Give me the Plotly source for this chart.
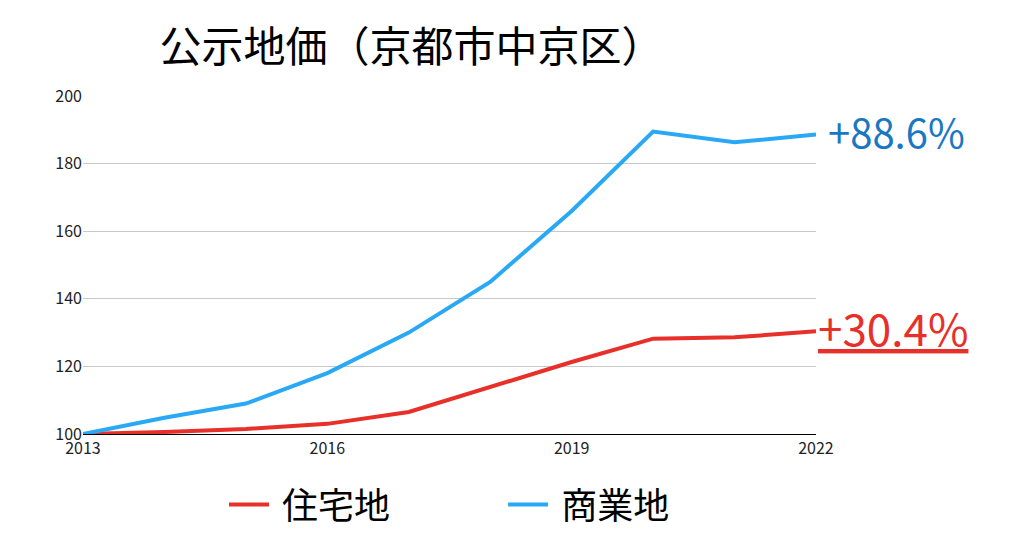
import plotly.graph_objects as go

years = list(range(2013, 2023))
residential = [100, 100.6, 101.5, 103, 106.5, 113.8, 121.3, 128.2, 128.6, 130.4]
commercial = [100, 104.8, 109, 118, 130, 145, 166, 189.5, 186.3, 188.6]

RED = "#e8302a"
BLUE = "#29a9f5"
FONT = "Noto Sans CJK JP"

fig = go.Figure()
fig.add_trace(go.Scatter(x=years, y=residential, mode="lines", name=" 住宅地\u3000\u3000\u3000",
                         line=dict(color=RED, width=4)))
fig.add_trace(go.Scatter(x=years, y=commercial, mode="lines", name=" 商業地",
                         line=dict(color=BLUE, width=4)))

fig.add_annotation(x=2022, y=commercial[-1], xref="x", yref="y", xanchor="left",
                   xshift=10, yshift=4, text="+88.6%", showarrow=False,
                   font=dict(family=FONT, size=40, color="#1a78c2"))
fig.add_annotation(x=2022, y=residential[-1], xref="x", yref="y", xanchor="left",
                   xshift=0, yshift=4, text="<u>+30.4%</u>", showarrow=False,
                   font=dict(family=FONT, size=44, color=RED))

fig.update_layout(
    width=1024, height=555,
    paper_bgcolor="white", plot_bgcolor="white",
    margin=dict(l=75, r=216, t=88, b=129),
    title=dict(text="公示地価（京都市中京区）", x=0.148, xanchor="left", y=0.955, yanchor="top",
               font=dict(family=FONT, size=42, color="black")),
    font=dict(family=FONT, color="#222"),
    xaxis=dict(range=[2013, 2022], tickvals=[2013, 2016, 2019, 2022],
               showgrid=False, showline=True, linecolor="black", linewidth=1,
               tickfont=dict(size=16), ticks="", automargin=False),
    yaxis=dict(range=[100, 200], tickvals=[100, 120, 140, 160, 180, 200],
               gridcolor="#c8c8c8", zeroline=False, tickfont=dict(size=16),
               ticks="", automargin=False),
    legend=dict(orientation="h", x=0.5, xanchor="center", y=-0.12, yanchor="top",
                font=dict(family=FONT, size=36, color="black"),
                itemwidth=40),
)

fig.write_html("out.html")
